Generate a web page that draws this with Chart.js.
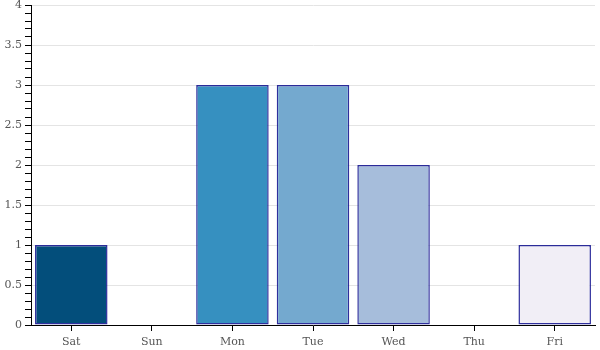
<!DOCTYPE html>
<html>
<head>
<meta charset="utf-8">
<script src="https://cdn.jsdelivr.net/npm/chart.js@4/dist/chart.umd.min.js"></script>
<style>
  html, body { margin: 0; padding: 0; background: #fff; }
  #wrap { width: 600px; height: 350px; }
</style>
</head>
<body>
<div id="wrap"><canvas id="chart"></canvas></div>
<script>
const days   = ['Sat', 'Sun', 'Mon', 'Tue', 'Wed', 'Thu', 'Fri'];
const counts = [1, 0, 3, 3, 2, 0, 1];
const fills  = ['#034e7b', '#0570b0', '#3690c0', '#74a9cf', '#a6bddb', '#d0d1e6', '#f1eef6'];

const isMajor = v => Math.round(v * 10) % 5 === 0;
const font = { family: '"DejaVu Serif", serif', size: 11 };

new Chart(document.getElementById('chart'), {
  type: 'bar',
  data: {
    labels: days,
    datasets: [{
      data: counts,
      backgroundColor: fills,
      borderColor: 'rgba(10,10,140,0.85)',
      borderWidth: 1.5,
      borderSkipped: false,
      categoryPercentage: 1,
      barPercentage: 0.9,
    }],
  },
  options: {
    responsive: true,
    maintainAspectRatio: false,
    animation: false,
    layout: { padding: { top: 0, right: 5, left: 0, bottom: 0 } },
    plugins: { legend: { display: false }, tooltip: { enabled: false } },
    scales: {
      x: {
        grid: { drawOnChartArea: false, offset: false, tickLength: 6, tickColor: '#000' },
        border: { color: '#000', width: 1 },
        ticks: { color: '#555', font, padding: 5 },
        afterFit: s => { s.height = 25; },
      },
      y: {
        min: 0,
        max: 4,
        grid: {
          color: ctx => isMajor(ctx.tick.value) ? '#e4e4e4' : 'rgba(0,0,0,0)',
          tickColor: '#000',
          tickLength: 6,
        },
        border: { color: '#000', width: 1 },
        ticks: {
          stepSize: 0.1,
          autoSkip: false,
          color: '#555',
          font,
          padding: 3,
          callback: v => isMajor(v) ? String(Math.round(v * 10) / 10) : '',
        },
        // minor steps carry only tick marks; keep the top tight to the canvas edge
        afterFit: s => { s.width = 31; s.paddingTop = 5; s.paddingBottom = 0; },
      },
    },
  },
});
</script>
</body>
</html>
